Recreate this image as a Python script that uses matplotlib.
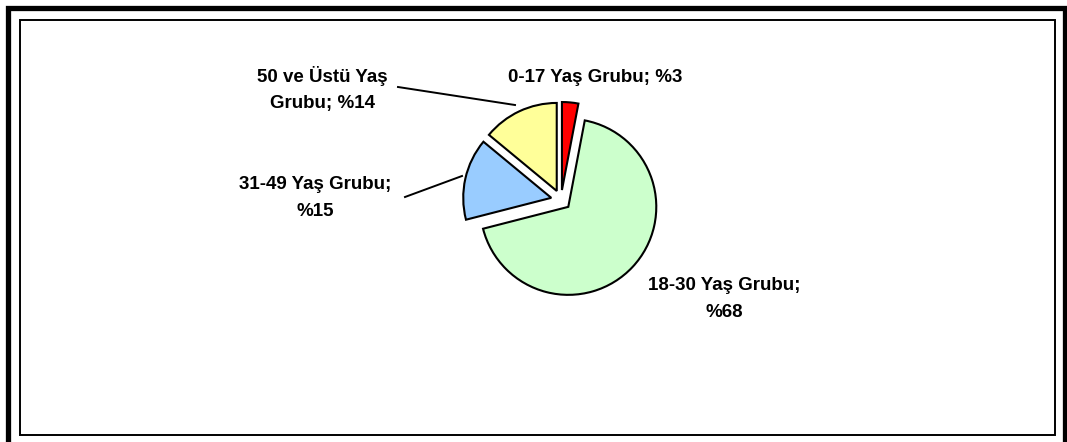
import matplotlib.pyplot as plt
from matplotlib.patches import Rectangle

# pie data
groups = ['0-17 Yaş Grubu', '18-30 Yaş Grubu', '31-49 Yaş Grubu', '50 ve Üstü Yaş Grubu']
shares = [3, 68, 15, 14]
colors = ['#FF0000', '#CCFFCC', '#99CCFF', '#FFFF99']
label_texts = ['0-17 Yaş Grubu; %3', '18-30 Yaş Grubu;\n%68',
               '31-49 Yaş Grubu;\n%15', '50 ve Üstü Yaş\nGrubu; %14']

W, H = 1067, 442

fig = plt.figure(figsize=(W / 100, H / 100), dpi=100)
ax = fig.add_axes([0, 0, 1, 1])

def yy(y):
    # pixel row (from top) to axis coords
    return H - y

# explode is in data units (pixels here)
ax.pie(shares, colors=colors, startangle=90, counterclock=False,
       center=(561, yy(200)), radius=88, explode=[10] * 4,
       wedgeprops=dict(edgecolor='black', linewidth=1.5))

# frames
ax.add_patch(Rectangle((7.5, yy(470)), 1057, 462.5, fill=False, ec='black', lw=3.8))
ax.add_patch(Rectangle((20, yy(435)), 1035, 415, fill=False, ec='black', lw=1.4))

# labels (pixel positions, top-down)
label_pos = [(595, 77), (724, 299), (315, 198), (322, 89)]
for txt, (x, y) in zip(label_texts, label_pos):
    ax.text(x, yy(y), txt, ha='center', va='center', fontsize=13.5,
            fontweight='bold', family='Liberation Sans', linespacing=1.75)

# leader lines
ax.plot([398, 515], [yy(87), yy(105)], color='black', lw=1.4)
ax.plot([405, 462], [yy(197), yy(176)], color='black', lw=1.4)

ax.set_aspect('auto')
ax.set_xlim(0, W)
ax.set_ylim(0, H)
ax.axis('off')

fig.savefig('out.png', dpi=100)
